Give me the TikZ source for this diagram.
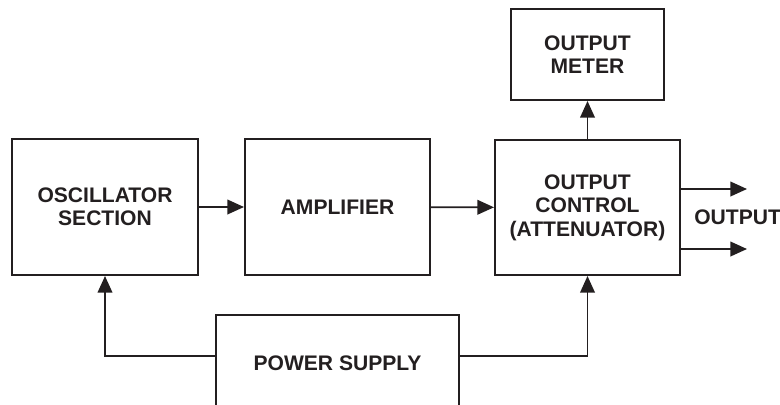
\documentclass[tikz,border=0pt]{standalone}
\usepackage{fontspec}
\setmainfont{Liberation Sans}
\usepackage{xcolor}
\usepackage{tikz}
\usetikzlibrary{positioning, arrows.meta}
\definecolor{ink}{HTML}{231F20}
\tikzstyle{block} = [rectangle, draw=ink, line width=1.5pt, text=ink, align=center, font=\fontsize{15.8}{17.6}\selectfont\bfseries, inner sep=0pt]
\tikzstyle{arrow} = [draw=ink, line width=1.3pt, -{Triangle[length=12.5pt, width=11pt]}]
\tikzstyle{wire} = [draw=ink, line width=1.3pt]

\begin{document}
\begin{tikzpicture}[x=0.75pt, y=-0.75pt]
    \useasboundingbox (0,0) rectangle (780,404);
    \clip (0,0) rectangle (780,404);

    % Top row of blocks
    \node[block, minimum width=186*0.75pt, minimum height=136*0.75pt] (osc) at (105, 207) {OSCILLATOR\\SECTION};
    \node[block, minimum width=185*0.75pt, minimum height=136*0.75pt] (amp) at (337.5, 207) {AMPLIFIER};
    \node[block, minimum width=185*0.75pt, minimum height=135*0.75pt] (ctrl) at (587.5, 207.5) {OUTPUT\\CONTROL\\(ATTENUATOR)};

    % Meter above the control block
    \node[block, minimum width=153*0.75pt, minimum height=91*0.75pt] (meter) at (587.5, 54.5) {OUTPUT\\METER};

    % Power supply (runs off the bottom edge)
    \node[block, minimum width=243*0.75pt, minimum height=96*0.75pt] (power) at (337.5, 363) {POWER SUPPLY};

    % Output label and free arrow ends
    \node[font=\fontsize{15.8}{17.6}\selectfont\bfseries, text=ink, anchor=west, inner sep=0pt] (outlbl) at (694, 217) {OUTPUT};
    \coordinate (out1) at (747, 189);
    \coordinate (out2) at (747, 249);

    % Signal path
    \draw[arrow] (osc) -- (amp);
    \draw[arrow] (amp) -- (ctrl);
    \draw[arrow] (ctrl) -- (meter);
    \draw[arrow] (ctrl.east |- out1) -- (out1);
    \draw[arrow] (ctrl.east |- out2) -- (out2);

    % Supply lines
    \draw[arrow] ([yshift=5.25pt]power.west) -| (osc.south);
    \draw[arrow] ([yshift=5.25pt]power.east) -| (ctrl.south);

\end{tikzpicture}
\end{document}
